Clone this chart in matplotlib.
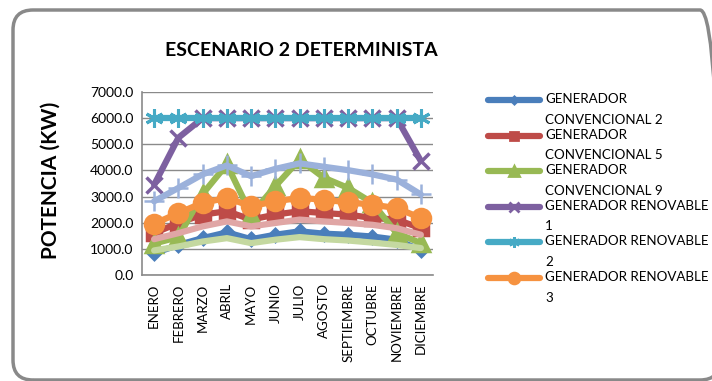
import numpy as np
import matplotlib
matplotlib.use("Agg")
import matplotlib.pyplot as plt
from matplotlib.patches import FancyBboxPatch
from matplotlib.lines import Line2D
from matplotlib.transforms import IdentityTransform

plt.rcParams['font.family'] = ['Lato', 'DejaVu Sans']

meses = ['ENERO', 'FEBRERO', 'MARZO', 'ABRIL', 'MAYO', 'JUNIO', 'JULIO',
         'AGOSTO', 'SEPTIEMBRE', 'OCTUBRE', 'NOVIEMBRE', 'DICIEMBRE']

conv2 = [830, 1150, 1410, 1630, 1370, 1540, 1670, 1580, 1540, 1470, 1350, 940]
conv5 = [1600, 1990, 2310, 2440, 2120, 2310, 2440, 2370, 2310, 2180, 2120, 1790]
conv9 = [1200, 1450, 3100, 4230, 2310, 3400, 4420, 3720, 3330, 2760, 1600, 1220]
renov1 = [3450, 5250, 6000, 6000, 6000, 6000, 6000, 6000, 6000, 6000, 6000, 4360]
renov2 = [6000, 6000, 6000, 6000, 6000, 6000, 6000, 6000, 6000, 6000, 6000, 6000]
renov3 = [1960, 2370, 2760, 2950, 2630, 2820, 2950, 2880, 2780, 2690, 2560, 2180]
serie7 = [2820, 3330, 3850, 4190, 3780, 4060, 4270, 4140, 4010, 3850, 3650, 3080]
serie8 = [1370, 1600, 1860, 2050, 1860, 1990, 2120, 2050, 1990, 1920, 1790, 1540]
serie9 = [940, 1090, 1280, 1410, 1220, 1350, 1450, 1370, 1320, 1240, 1150, 1030]

nombres = ['GENERADOR\nCONVENCIONAL 2', 'GENERADOR\nCONVENCIONAL 5',
           'GENERADOR\nCONVENCIONAL 9', 'GENERADOR RENOVABLE\n1',
           'GENERADOR RENOVABLE\n2', 'GENERADOR RENOVABLE\n3']

series = [conv2, conv5, conv9, renov1, renov2, renov3, serie7, serie8, serie9]
colores = ['#4A7EBB', '#BE4B48', '#98B954', '#7D60A0', '#46AAC5', '#F69240',
           '#9BB1DB', '#E0A6A5', '#C4D8A0']
marcas = ['D', 's', '^', 'x', (6, 2, 0), 'o', '+', None, None]
tams = [6, 10, 11, 11, 13, 13, 14, 0, 0]
bordes = [2.5, 2.5, 2.5, 2.5, 2.2, 2.5, 1.8, 0, 0]

fig = plt.figure(figsize=(7.12, 3.81), dpi=100)
ax = fig.add_axes([142/712, 1 - 275/381, 291/712, 183/381])

x = np.arange(len(meses))
for i in range(len(series)):
    ax.plot(x, series[i], color=colores[i], lw=4.5, marker=marcas[i],
            ms=tams[i], mew=bordes[i], mfc=colores[i], mec=colores[i],
            solid_capstyle='round', zorder=3 + i)

ax.set_xlim(-0.5, 11.5)
ax.set_ylim(0, 7000)
ax.set_yticks(np.arange(0, 7001, 1000))
ax.set_yticklabels(['%.1f' % v for v in np.arange(0, 7001, 1000)], fontsize=10)
ax.set_xticks(x)
ax.set_xticklabels(meses, rotation=90, fontsize=9.5)
ax.tick_params(length=0, pad=6)
ax.yaxis.grid(True, color='#8A8A8A', lw=1)
ax.set_axisbelow(True)
for s in ['top', 'right']:
    ax.spines[s].set_visible(False)
for s in ['left', 'bottom']:
    ax.spines[s].set_color('#8A8A8A')
    ax.spines[s].set_linewidth(1.2)

fig.text(301/712, 1 - 50/381, 'ESCENARIO 2 DETERMINISTA', fontsize=14,
         fontweight='bold', ha='center', va='center')
fig.text(51/712, 1 - 180/381, 'POTENCIA (KW)', fontsize=15,
         fontweight='bold', rotation=90, ha='center', va='center')

# leyenda a mano (como la de Excel, marcador en la primera linea)
for i in range(len(nombres)):
    yy = 1 - (100 + i * 35.6) / 381
    fig.add_artist(Line2D([488/712, 540/712], [yy, yy], color=colores[i],
                          lw=4.5, solid_capstyle='round'))
    fig.add_artist(Line2D([514/712], [yy], color=colores[i], marker=marcas[i],
                          ms=tams[i] * 0.6, mew=2, mfc=colores[i], mec=colores[i]))
    fig.text(545/712, yy + 7/381, nombres[i], fontsize=9.6, ha='left', va='top',
             linespacing=1.85)

borde = FancyBboxPatch((13, 1), 707, 370, boxstyle='round,pad=0,rounding_size=20',
                       transform=IdentityTransform(), fill=False,
                       edgecolor='#898989', lw=2.5)
fig.add_artist(borde)

fig.savefig('out.png', dpi=100)
